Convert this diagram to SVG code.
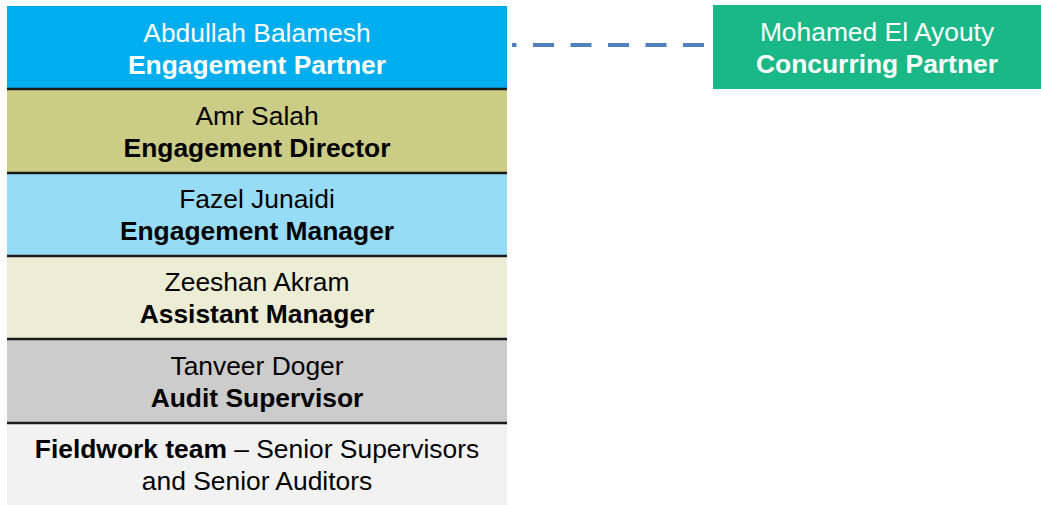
<svg xmlns="http://www.w3.org/2000/svg" width="1041" height="505" viewBox="0 0 1041 505">
<style>
text{font-family:"Liberation Sans",Arial,sans-serif;font-size:26.4px;text-anchor:middle;}
.b{font-weight:bold;}
.w{fill:#ffffff;}
.k{fill:#000000;}
.sep{stroke:#1a1a1a;stroke-width:2.5;}
.conn{stroke:#4f81bd;stroke-width:4;stroke-dasharray:21 16.5;fill:none;}
</style>
<rect width="1041" height="505" fill="#ffffff"/>
<g id="connectors">
<line class="conn" x1="704" y1="45" x2="512" y2="45"/>
</g>
<g id="partner">
<rect x="7" y="6" width="500" height="83" fill="#00aeef"/>
<text class="w" x="257" y="42">Abdullah Balamesh</text>
<text class="w b" x="257" y="74">Engagement Partner</text>
</g>
<g id="director">
<rect x="7" y="89" width="500" height="84" fill="#cbcc85"/>
<text class="k" x="257" y="125">Amr Salah</text>
<text class="k b" x="257" y="157">Engagement Director</text>
</g>
<g id="manager">
<rect x="7" y="173" width="500" height="83" fill="#97dcf7"/>
<text class="k" x="257" y="208">Fazel Junaidi</text>
<text class="k b" x="257" y="240">Engagement Manager</text>
</g>
<g id="assistant">
<rect x="7" y="256" width="500" height="83" fill="#ededd5"/>
<text class="k" x="257" y="291">Zeeshan Akram</text>
<text class="k b" x="257" y="323">Assistant Manager</text>
</g>
<g id="supervisor">
<rect x="7" y="339" width="500" height="84" fill="#cccccc"/>
<text class="k" x="257" y="375">Tanveer Doger</text>
<text class="k b" x="257" y="407">Audit Supervisor</text>
</g>
<g id="fieldwork">
<rect x="7" y="423" width="500" height="82" fill="#f2f2f2"/>
<text class="k" x="257" y="458"><tspan class="b">Fieldwork team</tspan> – Senior Supervisors</text>
<text class="k" x="257" y="490">and Senior Auditors</text>
</g>
<g id="separators">
<line class="sep" x1="7" y1="89" x2="507" y2="89"/>
<line class="sep" x1="7" y1="173" x2="507" y2="173"/>
<line class="sep" x1="7" y1="256" x2="507" y2="256"/>
<line class="sep" x1="7" y1="339" x2="507" y2="339"/>
<line class="sep" x1="7" y1="423" x2="507" y2="423"/>
</g>
<g id="concurring">
<rect x="713" y="5" width="328" height="84" fill="#19b886"/>
<text class="w" x="877" y="41">Mohamed El Ayouty</text>
<text class="w b" x="877" y="73">Concurring Partner</text>
</g>
</svg>
